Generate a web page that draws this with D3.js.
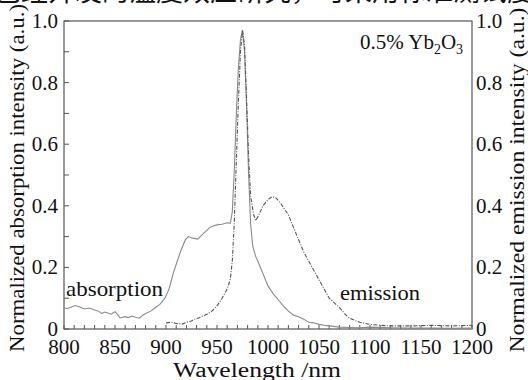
<!DOCTYPE html>
<html><head><meta charset="utf-8">
<script src="https://cdn.jsdelivr.net/npm/d3@7"></script>
<style>
html,body{margin:0;padding:0;background:#fff;overflow:hidden;}
text{font-family:"Liberation Serif","Times New Roman",serif;fill:#111;}
</style></head>
<body><svg id="c" width="528" height="380"></svg>
<script>
const absWl  = [800,803,806,811,815,820,825,830,834,837,840,843,846,850,853,855,860,863,867,870,874,877,880,885,889,894,899,903,907,911,915,919,922,926,931,935,940,943,947,950,955,960,963,965,967,969,971,973,975,977,979,981,983,985,988,990,995,1000,1005,1010,1015,1020,1025,1030,1035,1040,1045,1050,1055,1060,1070,1080,1090,1100,1120,1140,1160,1180,1200];
const absVal = [0.07,0.066,0.07,0.076,0.072,0.065,0.068,0.062,0.058,0.05,0.055,0.052,0.048,0.056,0.045,0.036,0.04,0.037,0.042,0.038,0.035,0.045,0.05,0.058,0.068,0.08,0.1,0.13,0.18,0.22,0.258,0.29,0.3,0.295,0.292,0.305,0.32,0.33,0.335,0.338,0.34,0.345,0.343,0.38,0.52,0.7,0.85,0.94,0.97,0.9,0.72,0.5,0.34,0.27,0.235,0.22,0.18,0.14,0.115,0.095,0.075,0.058,0.045,0.04,0.032,0.022,0.02,0.015,0.012,0.01,0.006,0.005,0.004,0.006,0.004,0.003,0.003,0.002,0.003];

const emWl  = [900,905,910,916,920,925,928,932,936,940,945,950,955,960,963,965,967,969,971,973,975,977,979,981,983,986,988,991,995,1000,1004,1008,1012,1016,1020,1025,1030,1035,1040,1045,1050,1055,1060,1065,1070,1075,1080,1085,1090,1100,1110,1120,1140,1160,1180,1200];
const emVal = [0.02,0.022,0.018,0.016,0.022,0.026,0.032,0.036,0.042,0.048,0.058,0.075,0.1,0.13,0.16,0.22,0.35,0.55,0.74,0.9,0.97,0.92,0.75,0.56,0.43,0.37,0.352,0.37,0.4,0.42,0.43,0.425,0.41,0.39,0.37,0.33,0.29,0.25,0.22,0.19,0.16,0.13,0.1,0.085,0.07,0.05,0.035,0.028,0.022,0.015,0.012,0.01,0.01,0.012,0.01,0.012];

const xTicks = [800,850,900,950,1000,1050,1100,1150,1200];
const yTicks = [0,0.2,0.4,0.6,0.8,1.0];

const svg = d3.select("#c");
const L=64,R=472,T=21,B=329;
const x = d3.scaleLinear().domain([800,1200]).range([L,R]);
const y = d3.scaleLinear().domain([0,1]).range([B,T]);

// cut-off header text
svg.append("text").attr("x",-6).attr("y",1).attr("font-size",27)
  .style("font-family","'Noto Sans CJK SC',serif")
  .text("已经开发的温度效应研究，可采用标准测试度发");

// frame
svg.append("rect").attr("x",L).attr("y",T).attr("width",R-L).attr("height",B-T)
  .attr("fill","none").attr("stroke","#555").attr("stroke-width",1.2);

// minor ticks inward
const xt = d3.range(800,1201,10);
svg.append("g").selectAll("line").data(xt).join("line")
  .attr("x1",d=>x(d)).attr("x2",d=>x(d)).attr("y1",B).attr("y2",B-4)
  .attr("stroke","#555").attr("stroke-width",1);
const yt = d3.range(0,1.01,0.1);
svg.append("g").selectAll("line").data(yt).join("line")
  .attr("x1",L).attr("x2",L+5).attr("y1",d=>y(d)).attr("y2",d=>y(d))
  .attr("stroke","#555").attr("stroke-width",1);

// tick labels
svg.append("g").selectAll("text").data(xTicks).join("text")
  .attr("x",d=>x(d)).attr("y",354).attr("text-anchor","middle").attr("font-size",21)
  .text(d=>d);
const fmt = d=> d===0 ? "0" : d3.format(".1f")(d);
svg.append("g").selectAll("text").data(yTicks).join("text")
  .attr("x",58).attr("y",d=>y(d)+7).attr("text-anchor","end").attr("font-size",21)
  .text(fmt);
svg.append("g").selectAll("text").data(yTicks).join("text")
  .attr("x",476).attr("y",d=>y(d)+7).attr("text-anchor","start").attr("font-size",21)
  .text(fmt);

// axis titles
svg.append("text").attr("x",257).attr("y",377).attr("text-anchor","middle").attr("font-size",20)
  .attr("textLength",168).attr("lengthAdjust","spacingAndGlyphs")
  .text("Wavelength /nm");
svg.append("text").attr("transform","translate(24,178) rotate(-90)").attr("text-anchor","middle")
  .attr("font-size",22).attr("textLength",348).attr("lengthAdjust","spacingAndGlyphs")
  .text("Normalized absorption intensity (a.u.)");
svg.append("text").attr("transform","translate(524,180) rotate(-90)").attr("text-anchor","middle")
  .attr("font-size",21).attr("textLength",345).attr("lengthAdjust","spacingAndGlyphs")
  .text("Normalized emission intensity (a.u.)");

// curves
const line = d3.line().x(d=>x(d[0])).y(d=>y(d[1]));
svg.append("path").datum(absWl.map((w,i)=>[w,absVal[i]])).attr("d",line)
  .attr("fill","none").attr("stroke","#8a8a8a").attr("stroke-width",1.1);
svg.append("path").datum(emWl.map((w,i)=>[w,emVal[i]])).attr("d",line)
  .attr("fill","none").attr("stroke","#555").attr("stroke-width",1.1)
  .attr("stroke-dasharray","4,1.5,1,1.5");

// labels
svg.append("text").attr("x",66).attr("y",296).attr("font-size",21)
  .attr("textLength",97).attr("lengthAdjust","spacingAndGlyphs").text("absorption");
svg.append("text").attr("x",340).attr("y",300).attr("font-size",21)
  .attr("textLength",80).attr("lengthAdjust","spacingAndGlyphs").text("emission");
const t = svg.append("text").attr("x",360).attr("y",49).attr("font-size",21);
t.append("tspan").text("0.5% Yb");
t.append("tspan").attr("font-size",14).attr("dy",5).text("2");
t.append("tspan").attr("dy",-5).text("O");
t.append("tspan").attr("font-size",14).attr("dy",5).text("3");
</script></body></html>
